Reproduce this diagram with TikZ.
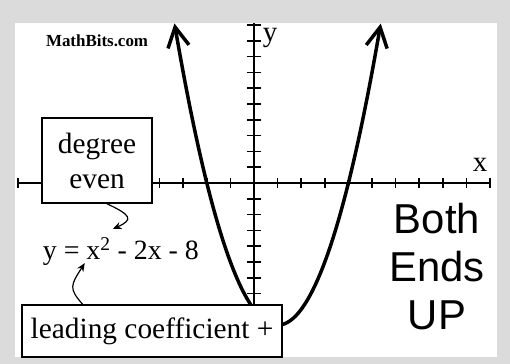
\documentclass[tikz,border=0pt]{standalone}
\usepackage{fontspec}
\setmainfont{Liberation Serif}
\newfontfamily\arialfont{Liberation Sans}
\usetikzlibrary{arrows.meta, positioning}

\begin{document}
\begin{tikzpicture}[
  x=0.833cm, y=0.5576cm,
  axis/.style={line width=1.5pt},
  axislabel/.style={font=\fontsize{29}{30}\selectfont, inner sep=0pt},
  labelbox/.style={draw, rectangle, line width=1.5pt, fill=white, align=center, font=\fontsize{29.5}{35}\selectfont},
  curve/.style={line width=3.5pt, {Straight Barb[length=7mm,width=7.5mm]}-{Straight Barb[length=7mm,width=7.5mm]}},
  thinarrow/.style={-{Stealth[length=3mm,width=2.5mm]}, line width=1.2pt}
]

\fill[gray!28] (-10.763,-11.456) rectangle (10.847,11.582);
\fill[white] (-10.13,-11.01) rectangle (10.30,10.13);

\draw[axis] (-10,0) -- (10,0);
\draw[axis] (0,-8) -- (0,10.1);
\foreach \i in {-10,...,10}
  \draw[axis] (\i,-0.3) -- (\i,0.3);
\foreach \j in {-8,...,10}
  \draw[axis] (-0.3,\j) -- (0.3,\j);

\node[axislabel] (xlab) at (9.58,1.14) {x};
\node[axislabel] (ylab) at (0.68,9.18) {y};

\draw[curve] plot[domain=-3.37:5.37, samples=100] (\x,{\x*\x-2*\x-8});

\node[font=\bfseries\fontsize{17}{20}\selectfont] (site) at (-6.65,8.99) {MathBits.com};

\node[labelbox, minimum width=3.88cm, minimum height=3.0cm] (degree) at (-6.65,1.42) {degree\\even};
\node[labelbox, minimum width=9.18cm, minimum height=1.835cm] (leading) at (-4.32,-9.37) {leading coefficient +};

\node[font=\fontsize{28}{30}\selectfont] (eq) at (-5.64,-4.37) {y = x\textsuperscript{2} - 2x - 8};
\coordinate (tipa) at ([shift={(-0.34,1.46)}]eq.center);
\coordinate (tipb) at ([shift={(-1.53,-0.70)}]eq.center);

\draw[thinarrow] ([xshift=0.35cm]degree.south) .. controls +(1.0,-0.7) and +(0.9,0.6) .. (tipa);
\draw[thinarrow] ([xshift=-2.45cm]leading.north) .. controls +(-0.6,1.0) and +(-0.6,-1.4) .. (tipb);

\node[font=\arialfont\fontsize{42}{48}\selectfont, align=center, inner sep=0pt] (ends) at (7.75,-5.28) {Both\\Ends\\UP};

\end{tikzpicture}
\end{document}
